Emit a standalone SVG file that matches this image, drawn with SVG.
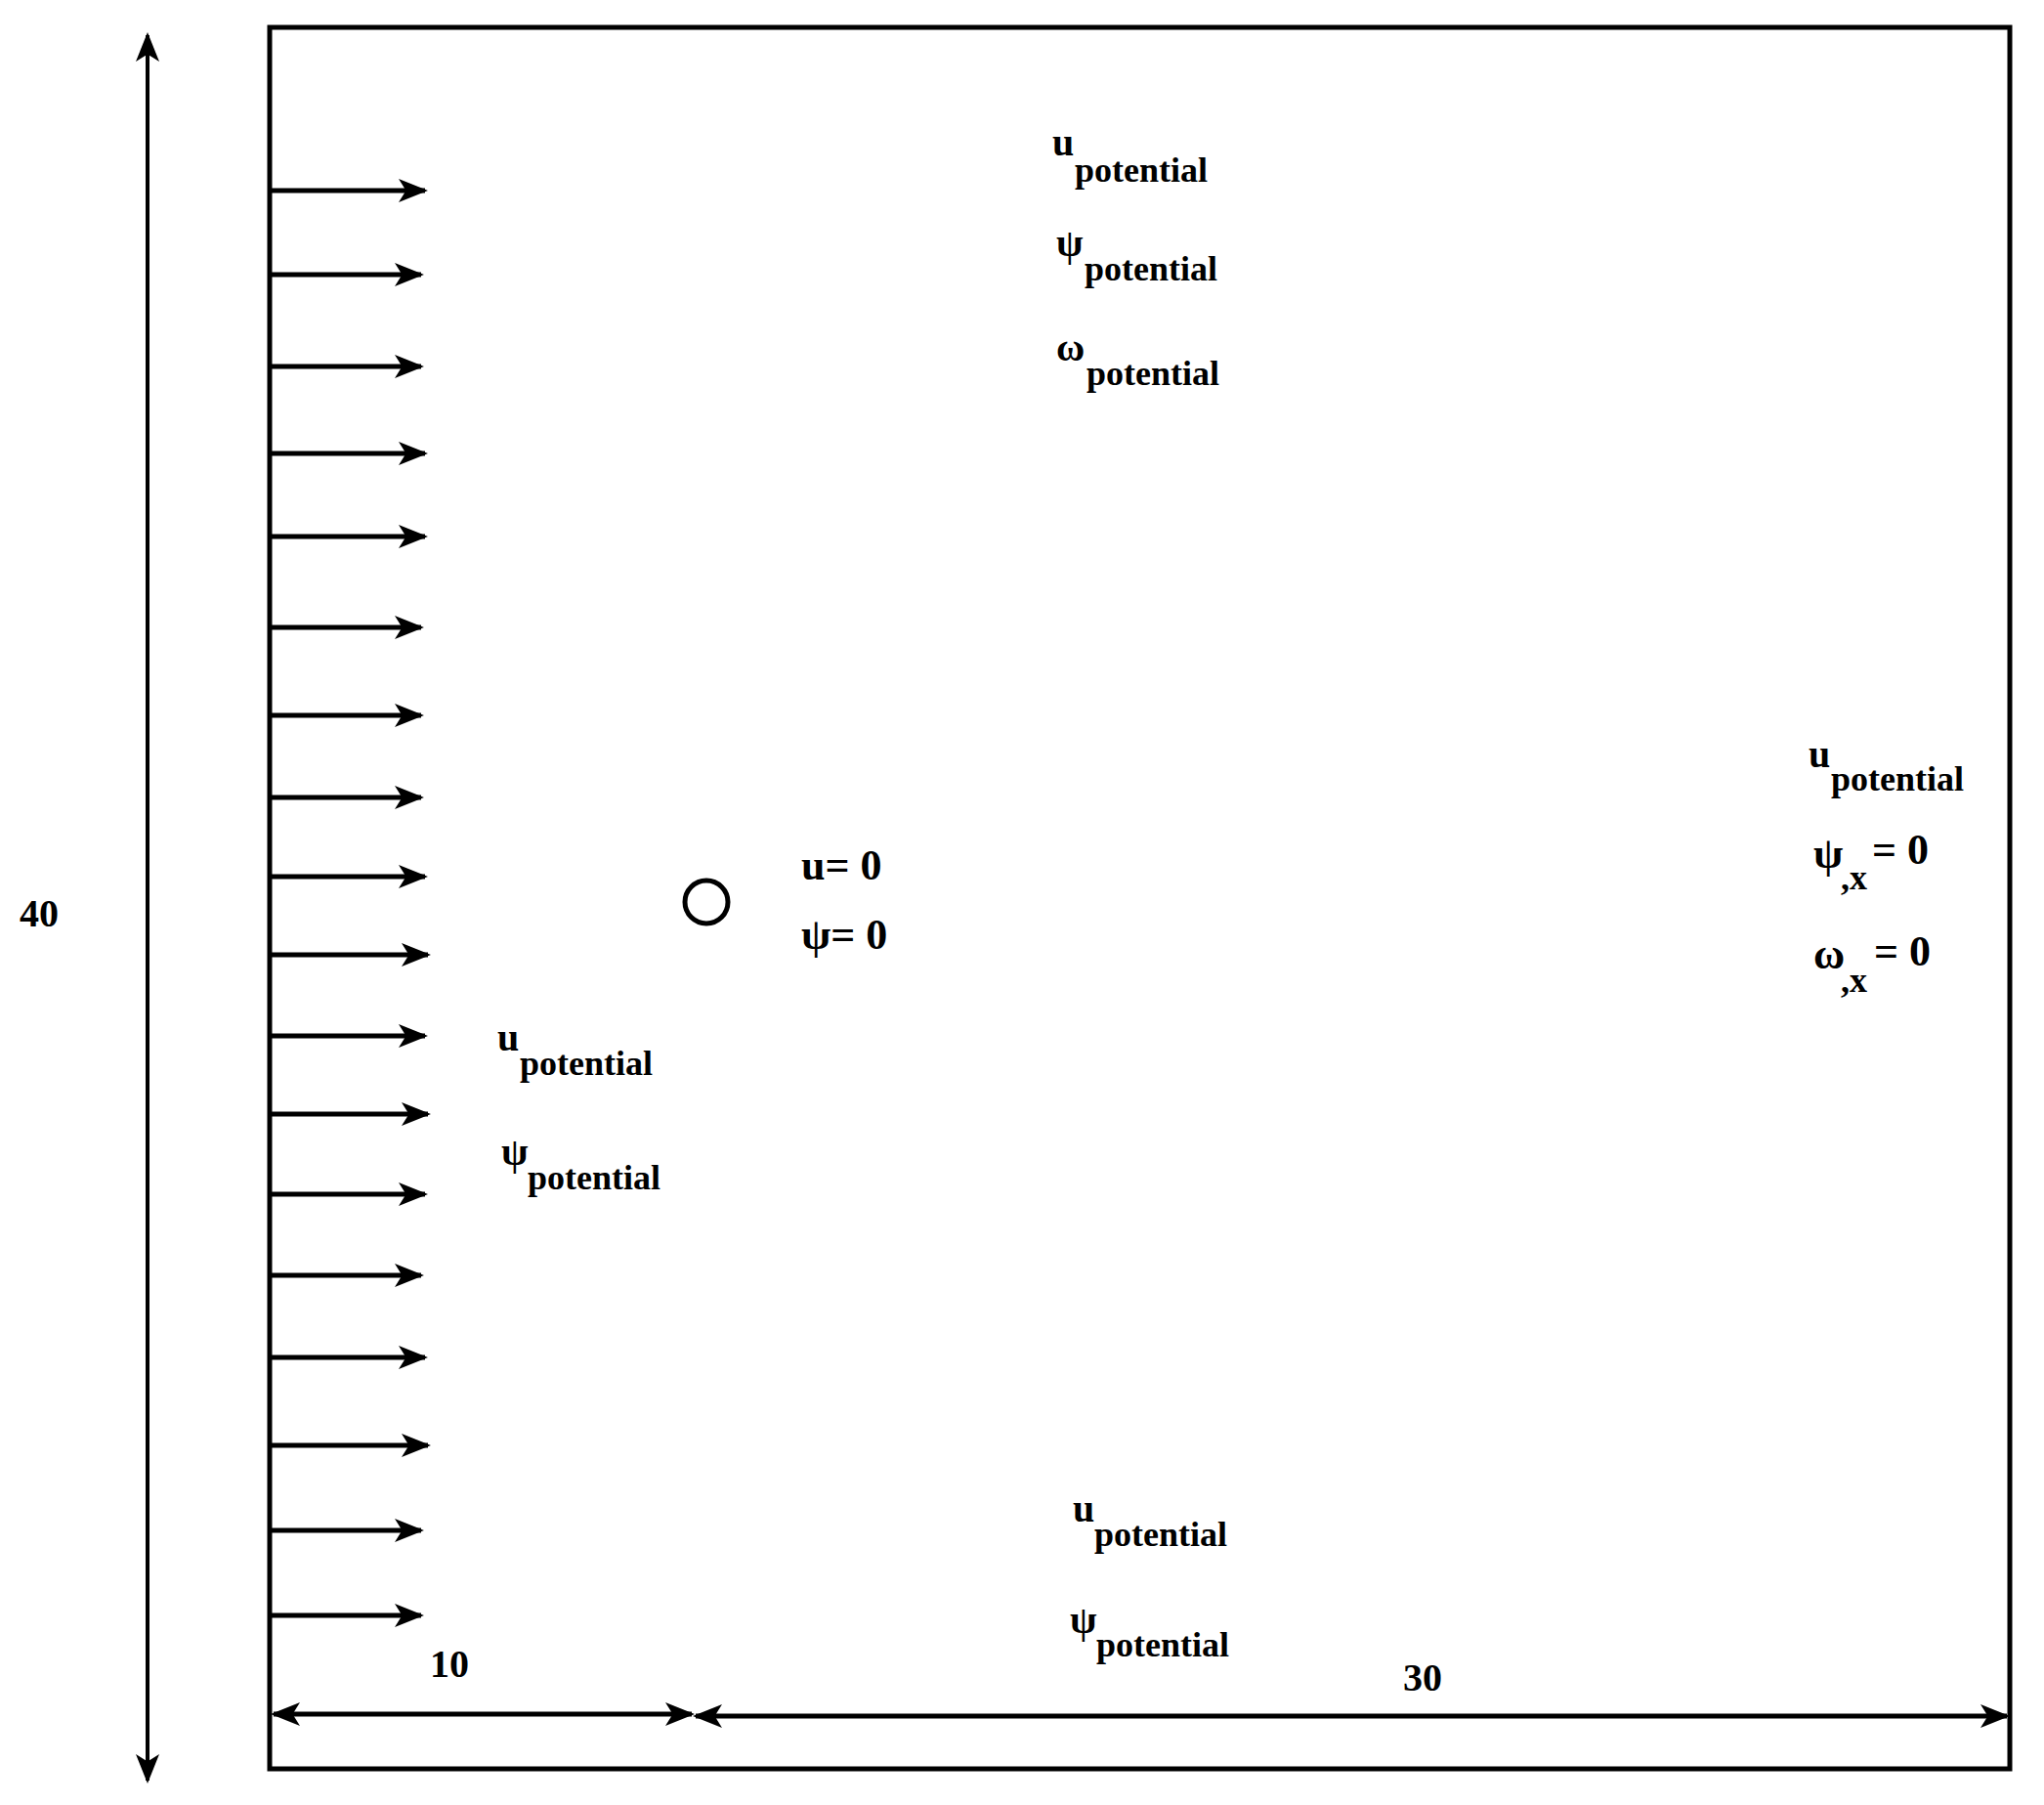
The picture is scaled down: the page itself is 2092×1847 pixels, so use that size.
<svg xmlns="http://www.w3.org/2000/svg" width="2092" height="1847" viewBox="0 0 2092 1847">
<style>
text{font-family:"Liberation Serif","Times New Roman",serif;font-weight:bold;fill:#000}
.m{font-size:40px}.s{font-size:36px}.b{font-size:44px}
.a{stroke:#000;stroke-width:5;fill:none}
</style>
<defs>
<marker id="ah2" viewBox="0 0 20 16" refX="18" refY="8" markerWidth="30" markerHeight="24" orient="auto-start-reverse" markerUnits="userSpaceOnUse">
<path d="M0,0 L20,8 L0,16 L5,8 Z" fill="#000"/>
</marker>
</defs>
<rect x="0" y="0" width="2092" height="1847" fill="#fff"/>
<g id="domain"><rect x="276" y="28" width="1781" height="1782" fill="none" stroke="#000" stroke-width="5"/></g>
<g id="cylinder"><circle cx="723" cy="923" r="22" fill="none" stroke="#000" stroke-width="5"/></g>
<g id="connectors" class="a">
<line x1="151" y1="36" x2="151" y2="1822" stroke-width="4" marker-start="url(#ah2)" marker-end="url(#ah2)"/>
<line x1="280" y1="1754" x2="708" y2="1754" marker-start="url(#ah2)" marker-end="url(#ah2)"/>
<line x1="712" y1="1756" x2="2054" y2="1756" marker-start="url(#ah2)" marker-end="url(#ah2)"/>
<g marker-end="url(#ah2)">
<line x1="278" y1="195" x2="435" y2="195"/>
<line x1="278" y1="281" x2="431" y2="281"/>
<line x1="278" y1="375" x2="431" y2="375"/>
<line x1="278" y1="464" x2="435" y2="464"/>
<line x1="278" y1="549" x2="435" y2="549"/>
<line x1="278" y1="642" x2="431" y2="642"/>
<line x1="278" y1="732" x2="431" y2="732"/>
<line x1="278" y1="816" x2="431" y2="816"/>
<line x1="278" y1="897" x2="435" y2="897"/>
<line x1="278" y1="977" x2="438" y2="977"/>
<line x1="278" y1="1060" x2="435" y2="1060"/>
<line x1="278" y1="1140" x2="438" y2="1140"/>
<line x1="278" y1="1222" x2="435" y2="1222"/>
<line x1="278" y1="1305" x2="431" y2="1305"/>
<line x1="278" y1="1389" x2="435" y2="1389"/>
<line x1="278" y1="1479" x2="438" y2="1479"/>
<line x1="278" y1="1566" x2="431" y2="1566"/>
<line x1="278" y1="1653" x2="431" y2="1653"/>
</g>
</g>
<g id="labels">
<text class="m" x="20" y="948">40</text>
<text class="m" x="440" y="1716">10</text>
<text class="m" x="1436" y="1730">30</text>
<text class="b" x="820" y="900">u= 0</text>
<text class="b" x="820" y="971">ψ= 0</text>
<text class="m" x="1077" y="159">u</text><text class="s" x="1100" y="186">potential</text>
<text class="m" x="1081" y="262">ψ</text><text class="s" x="1110" y="287">potential</text>
<text class="m" x="1081" y="369">ω</text><text class="s" x="1112" y="394">potential</text>
<text class="m" x="509" y="1075">u</text><text class="s" x="532" y="1100">potential</text>
<text class="m" x="513" y="1192">ψ</text><text class="s" x="540" y="1217">potential</text>
<text class="m" x="1098" y="1557">u</text><text class="s" x="1120" y="1582">potential</text>
<text class="m" x="1095" y="1671">ψ</text><text class="s" x="1122" y="1695">potential</text>
<text class="m" x="1851" y="785">u</text><text class="s" x="1874" y="809">potential</text>
<text class="b" x="1856" y="888">ψ</text><text class="s" x="1884" y="910">,x</text><text class="b" x="1916" y="884">= 0</text>
<text class="b" x="1856" y="991">ω</text><text class="s" x="1884" y="1015">,x</text><text class="b" x="1918" y="988">= 0</text>
</g>
</svg>
